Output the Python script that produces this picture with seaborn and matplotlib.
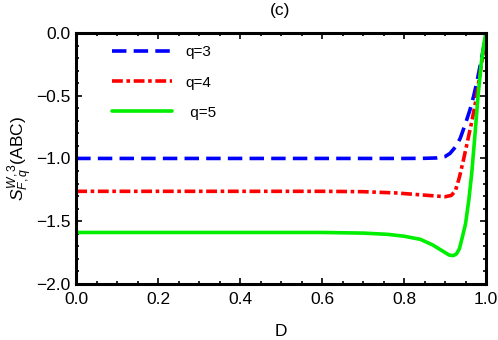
import matplotlib
matplotlib.use("Agg")
import matplotlib.pyplot as plt
import numpy as np
import pandas as pd
import seaborn as sns
from matplotlib.ticker import MultipleLocator

# values
d_q3 = [0.0, 0.5, 0.8, 0.85, 0.88, 0.90, 0.912, 0.925, 0.937, 0.95, 0.961, 0.97, 0.977, 0.985, 0.993, 1.0]
s_q3 = [-1.0, -1.0, -1.0, -0.999, -0.996, -0.985, -0.96, -0.91, -0.84, -0.72, -0.61, -0.50, -0.40, -0.27, -0.135, 0.0]

d_q4 = [0.0, 0.6, 0.7, 0.78, 0.84, 0.88, 0.90, 0.915, 0.925, 0.935, 0.945, 0.955, 0.965, 0.975, 0.985, 0.993, 1.0]
s_q4 = [-1.262, -1.262, -1.265, -1.275, -1.29, -1.30, -1.305, -1.295, -1.26, -1.15, -1.01, -0.86, -0.71, -0.54, -0.33, -0.16, 0.0]

d_q5 = [0.0, 0.6, 0.7, 0.76, 0.8, 0.84, 0.87, 0.895, 0.91, 0.92, 0.928, 0.935, 0.942, 0.95, 0.958, 0.965, 0.972, 0.98, 0.988, 0.995, 1.0]
s_q5 = [-1.59, -1.59, -1.595, -1.605, -1.62, -1.645, -1.69, -1.74, -1.77, -1.775, -1.76, -1.72, -1.63, -1.52, -1.33, -1.12, -0.85, -0.52, -0.25, -0.08, 0.0]

labels = ["q=3", "q=4", " q=5"]
colors = ["#0000ff", "#ff0000", "#00ee00"]
dashes = [(4, 2), (3, 1, 1, 1), None]

sns.set_style("ticks", {"axes.edgecolor": "black", "text.color": "black",
                        "axes.labelcolor": "black", "xtick.color": "black", "ytick.color": "black"})
plt.rcParams['font.family'] = ['Liberation Sans', 'DejaVu Sans']
plt.rcParams['mathtext.fontset'] = 'custom'
plt.rcParams['mathtext.rm'] = 'Liberation Sans'
plt.rcParams['mathtext.it'] = 'Liberation Sans:italic'

fig, ax = plt.subplots(figsize=(4.98, 3.40), dpi=100)
fig.subplots_adjust(left=0.153, right=0.976, top=0.903, bottom=0.165)

for d, s, lab, c, ds in zip([d_q3, d_q4, d_q5], [s_q3, s_q4, s_q5], labels, colors, dashes):
    df = pd.DataFrame({"D": d, "S": s})
    sns.lineplot(data=df, x="D", y="S", color=c, lw=2.6, label=lab, ax=ax)
    if ds is not None:
        ax.lines[-1].set_dashes(ds)

ax.set_xlim(0, 1)
ax.set_ylim(-2, 0)
ax.xaxis.set_major_locator(MultipleLocator(0.2))
ax.xaxis.set_minor_locator(MultipleLocator(0.05))
ax.yaxis.set_major_locator(MultipleLocator(0.5))
ax.yaxis.set_minor_locator(MultipleLocator(0.1))
ax.xaxis.set_major_formatter(matplotlib.ticker.FormatStrFormatter('%.1f'))
ax.yaxis.set_major_formatter(matplotlib.ticker.FuncFormatter(lambda v, p: f"{v:.1f}".replace("-", "\u2212")))
ax.tick_params(which='both', direction='in', top=True, right=True, labelsize=12.5, colors='black')
ax.tick_params(axis='x', pad=6)
ax.tick_params(axis='y', pad=4)
ax.tick_params(which='major', length=4.5, width=1.2)
ax.tick_params(which='minor', length=2.5, width=1.2)
for sp in ax.spines.values():
    sp.set_linewidth(2.2)
    sp.set_color('black')

ax.set_xlabel("D", fontsize=12.5, labelpad=12, color='black')
ax.set_ylabel(r"$S^{W,3}_{F,q}$(ABC)", fontsize=12.5, labelpad=1, color='black')
fig.text(0.563, 0.968, "(c)", ha='center', va='center', fontsize=12.5, color='black')

leg = ax.legend(loc='upper left', bbox_to_anchor=(0.055, 1.005), frameon=False, fontsize=11,
                handlelength=3.9, handletextpad=0.9, labelspacing=1.05)
for t in leg.get_texts():
    t.set_color('black')

fig.savefig("out.png", dpi=100)
